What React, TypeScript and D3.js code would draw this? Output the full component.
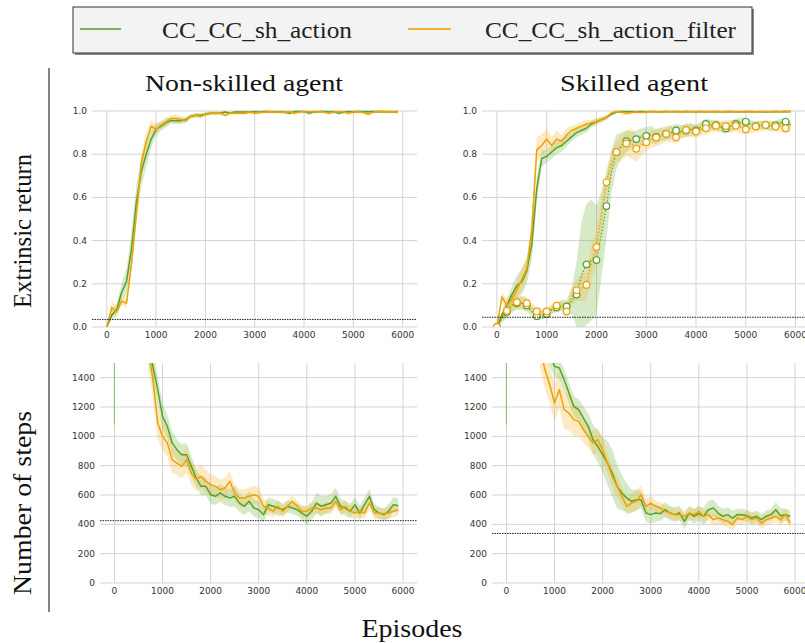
import React from 'react';
import * as d3 from 'd3';

// ---------- data ----------
const EPISODES = d3.range(0, 6000, 100);
const STEP_EPISODES = d3.range(700, 6000, 100);
const EPISODE_TICKS = [0, 1000, 2000, 3000, 4000, 5000, 6000];
const RETURN_TICKS = [0, 0.2, 0.4, 0.6, 0.8, 1.0];
const STEP_TICKS = [0, 200, 400, 600, 800, 1000, 1200, 1400];
const SERIES_NAMES = ['CC_CC_sh_action', 'CC_CC_sh_action_filter'];
const PANEL_TITLES = ['Non-skilled agent', 'Skilled agent'];
const ROW_LABELS = ['Extrinsic return', 'Number of steps'];
const X_LABEL = 'Episodes';
const BASELINE_RETURN = [0.035, 0.045];
const BASELINE_STEPS = [425, 338];
const STEP_START_LOW = [1080, 1080];

// Non-skilled, extrinsic return
const TL_GREEN = [0, 0.055, 0.08, 0.16, 0.21, 0.36, 0.58, 0.72, 0.8, 0.87,
  0.915, 0.93, 0.945, 0.955, 0.955, 0.955, 0.96, 0.975, 0.98, 0.98,
  0.985, 0.99, 0.99, 0.99, 0.995, 0.99, 0.995, 0.995, 0.995, 0.995,
  0.997, 0.995, 0.998, 0.997, 0.996, 0.997, 0.995, 0.99, 0.997, 0.998,
  0.998, 0.99, 0.996, 0.997, 0.998, 0.995, 0.997, 0.99, 0.995, 0.997,
  0.996, 0.998, 0.997, 0.996, 0.998, 0.997, 0.998, 0.996, 0.997, 0.996];
const TL_GREEN_SD = [0, 0.02, 0.03, 0.04, 0.06, 0.08, 0.08, 0.07, 0.06, 0.04,
  0.03, 0.02, 0.02, 0.015, 0.015, 0.015, 0.012, 0.01, 0.01, 0.01,
  0.008, 0.008, 0.008, 0.008, 0.006, 0.006, 0.006, 0.006, 0.006, 0.006,
  0.006, 0.006, 0.006, 0.006, 0.006, 0.006, 0.006, 0.008, 0.006, 0.006,
  0.006, 0.008, 0.006, 0.006, 0.006, 0.006, 0.006, 0.008, 0.006, 0.006,
  0.006, 0.006, 0.006, 0.006, 0.006, 0.006, 0.006, 0.006, 0.006, 0.006];
const TL_ORANGE = [0, 0.09, 0.07, 0.12, 0.11, 0.29, 0.52, 0.76, 0.86, 0.93,
  0.915, 0.935, 0.95, 0.965, 0.965, 0.96, 0.955, 0.975, 0.98, 0.975,
  0.985, 0.99, 0.99, 0.99, 0.98, 0.99, 0.99, 0.99, 0.99, 0.995,
  0.99, 0.993, 0.995, 0.997, 0.995, 0.996, 0.993, 0.997, 0.99, 0.995,
  0.997, 0.996, 0.995, 0.997, 0.996, 0.99, 0.995, 0.997, 0.996, 0.99,
  0.995, 0.997, 0.993, 0.985, 0.995, 0.998, 0.997, 0.996, 0.997, 0.995];
const TL_ORANGE_SD = [0, 0.03, 0.02, 0.02, 0.02, 0.03, 0.03, 0.04, 0.04, 0.03,
  0.02, 0.02, 0.02, 0.015, 0.02, 0.015, 0.012, 0.01, 0.01, 0.01,
  0.008, 0.008, 0.008, 0.008, 0.008, 0.007, 0.007, 0.007, 0.007, 0.007,
  0.007, 0.007, 0.007, 0.007, 0.007, 0.007, 0.007, 0.007, 0.007, 0.007,
  0.007, 0.007, 0.007, 0.007, 0.007, 0.007, 0.007, 0.007, 0.007, 0.007,
  0.007, 0.007, 0.007, 0.008, 0.007, 0.007, 0.007, 0.007, 0.007, 0.007];

// Skilled, extrinsic return (solid = fast, dotted+markers = slow)
const TR_GREEN = [0, 0.055, 0.1, 0.15, 0.19, 0.21, 0.26, 0.38, 0.64, 0.78,
  0.79, 0.81, 0.83, 0.84, 0.86, 0.88, 0.9, 0.91, 0.92, 0.94,
  0.95, 0.96, 0.97, 0.985, 0.995, 0.998, 0.997, 0.998, 0.997, 0.998,
  0.997, 0.998, 0.997, 0.996, 0.998, 0.997, 0.998, 0.997, 0.998, 0.996,
  0.997, 0.998, 0.996, 0.997, 0.998, 0.996, 0.997, 0.998, 0.997, 0.996,
  0.997, 0.998, 0.996, 0.997, 0.995, 0.997, 0.998, 0.997, 0.998, 0.997];
const TR_GREEN_SD = [0, 0.02, 0.03, 0.04, 0.05, 0.06, 0.06, 0.07, 0.06, 0.04,
  0.03, 0.03, 0.03, 0.03, 0.025, 0.02, 0.02, 0.02, 0.02, 0.015,
  0.015, 0.012, 0.01, 0.008, 0.005, 0.004, 0.004, 0.004, 0.004, 0.004,
  0.004, 0.004, 0.004, 0.004, 0.004, 0.004, 0.004, 0.004, 0.004, 0.004,
  0.004, 0.004, 0.004, 0.004, 0.004, 0.004, 0.004, 0.004, 0.004, 0.004,
  0.004, 0.004, 0.004, 0.004, 0.004, 0.004, 0.004, 0.004, 0.004, 0.004];
const TR_ORANGE = [0, 0.14, 0.1, 0.13, 0.17, 0.22, 0.27, 0.45, 0.82, 0.84,
  0.87, 0.84, 0.87, 0.86, 0.89, 0.91, 0.92, 0.93, 0.94, 0.945,
  0.95, 0.96, 0.97, 0.99, 0.998, 0.995, 0.99, 0.993, 0.995, 0.993,
  0.995, 0.997, 0.996, 0.995, 0.997, 0.996, 0.997, 0.995, 0.997, 0.998,
  0.997, 0.996, 0.997, 0.998, 0.997, 0.996, 0.998, 0.997, 0.996, 0.997,
  0.998, 0.997, 0.996, 0.997, 0.998, 0.997, 0.996, 0.997, 0.998, 0.998];
const TR_ORANGE_SD = [0, 0.02, 0.03, 0.03, 0.04, 0.05, 0.05, 0.06, 0.06, 0.05,
  0.05, 0.04, 0.04, 0.03, 0.03, 0.02, 0.02, 0.02, 0.02, 0.015,
  0.015, 0.012, 0.01, 0.008, 0.006, 0.008, 0.01, 0.008, 0.006, 0.006,
  0.006, 0.006, 0.006, 0.006, 0.006, 0.006, 0.006, 0.006, 0.006, 0.006,
  0.006, 0.006, 0.006, 0.006, 0.006, 0.006, 0.006, 0.006, 0.006, 0.006,
  0.006, 0.006, 0.006, 0.006, 0.006, 0.006, 0.006, 0.006, 0.006, 0.006];
const TR_GREEN_SLOW = [0, 0.04, 0.07, 0.1, 0.11, 0.11, 0.1, 0.07, 0.05, 0.055,
  0.06, 0.08, 0.09, 0.1, 0.095, 0.12, 0.15, 0.24, 0.29, 0.31,
  0.31, 0.43, 0.56, 0.72, 0.81, 0.84, 0.86, 0.865, 0.87, 0.88,
  0.885, 0.89, 0.88, 0.89, 0.895, 0.9, 0.91, 0.905, 0.91, 0.915,
  0.91, 0.925, 0.94, 0.935, 0.935, 0.925, 0.92, 0.93, 0.94, 0.945,
  0.95, 0.94, 0.93, 0.935, 0.935, 0.93, 0.935, 0.945, 0.95, 0.935];
const TR_GREEN_SLOW_SD = [0, 0.02, 0.03, 0.03, 0.03, 0.03, 0.03, 0.02, 0.02, 0.02,
  0.02, 0.02, 0.02, 0.025, 0.03, 0.06, 0.15, 0.25, 0.28, 0.28,
  0.25, 0.2, 0.15, 0.1, 0.08, 0.06, 0.05, 0.04, 0.04, 0.04,
  0.04, 0.04, 0.035, 0.03, 0.03, 0.03, 0.03, 0.03, 0.03, 0.03,
  0.025, 0.025, 0.025, 0.025, 0.025, 0.025, 0.025, 0.025, 0.025, 0.025,
  0.02, 0.02, 0.02, 0.02, 0.02, 0.02, 0.02, 0.02, 0.02, 0.02];
const TR_ORANGE_SLOW = [0, 0.05, 0.075, 0.1, 0.115, 0.115, 0.11, 0.09, 0.072, 0.07,
  0.072, 0.085, 0.099, 0.1, 0.072, 0.14, 0.17, 0.18, 0.195, 0.3,
  0.37, 0.52, 0.67, 0.76, 0.81, 0.83, 0.85, 0.85, 0.825, 0.84,
  0.855, 0.87, 0.877, 0.885, 0.894, 0.895, 0.878, 0.9, 0.912, 0.91,
  0.905, 0.915, 0.92, 0.925, 0.932, 0.93, 0.93, 0.93, 0.932, 0.925,
  0.915, 0.92, 0.928, 0.93, 0.935, 0.93, 0.928, 0.93, 0.92, 0.93];
const TR_ORANGE_SLOW_SD = [0, 0.02, 0.03, 0.03, 0.03, 0.03, 0.03, 0.02, 0.02, 0.02,
  0.02, 0.02, 0.02, 0.02, 0.03, 0.04, 0.05, 0.06, 0.07, 0.08,
  0.08, 0.08, 0.06, 0.05, 0.05, 0.06, 0.06, 0.07, 0.06, 0.05,
  0.04, 0.04, 0.04, 0.04, 0.035, 0.04, 0.03, 0.03, 0.03, 0.03,
  0.03, 0.03, 0.03, 0.025, 0.025, 0.025, 0.03, 0.03, 0.025, 0.03,
  0.025, 0.025, 0.025, 0.025, 0.025, 0.025, 0.025, 0.025, 0.025, 0.025];

// Non-skilled, number of steps (episodes 700..5900)
const BL_GREEN = [1650, 1477, 1318, 1136, 1068, 955, 909, 875, 875, 795,
  716, 659, 659, 602, 591, 614, 591, 580, 591, 545,
  523, 557, 511, 500, 466, 534, 523, 511, 500, 523,
  511, 500, 477, 455, 489, 545, 523, 534, 545, 591,
  523, 511, 489, 534, 477, 534, 591, 500, 477, 466,
  489, 534, 527];
const BL_GREEN_SD = [120, 110, 100, 90, 80, 80, 70, 70, 80, 70,
  60, 60, 60, 60, 60, 60, 60, 60, 70, 60,
  60, 70, 60, 60, 50, 50, 50, 50, 40, 40,
  40, 40, 50, 60, 60, 70, 70, 60, 60, 60,
  50, 50, 50, 50, 50, 50, 50, 40, 40, 40,
  50, 50, 50];
const BL_ORANGE = [1600, 1386, 1091, 1000, 955, 841, 818, 795, 841, 750,
  705, 727, 693, 670, 659, 636, 648, 693, 614, 580,
  580, 591, 602, 591, 523, 511, 489, 523, 489, 523,
  557, 523, 489, 489, 511, 511, 500, 511, 511, 557,
  500, 523, 489, 477, 489, 477, 545, 477, 477, 473,
  477, 489, 500];
const BL_ORANGE_SD = [130, 120, 110, 100, 90, 90, 80, 80, 90, 80,
  80, 80, 80, 70, 70, 70, 70, 70, 60, 60,
  60, 60, 60, 60, 50, 50, 40, 40, 40, 40,
  40, 40, 40, 40, 40, 40, 40, 40, 40, 40,
  40, 40, 40, 40, 40, 40, 40, 40, 40, 40,
  40, 40, 40];

// Skilled, number of steps (episodes 700..5900)
const BR_GREEN = [1750, 1650, 1560, 1477, 1466, 1386, 1296, 1205, 1182, 1125,
  1068, 977, 932, 875, 818, 750, 659, 614, 580, 557,
  568, 568, 477, 466, 477, 473, 500, 477, 466, 477,
  420, 477, 455, 473, 455, 500, 511, 477, 455, 466,
  443, 466, 466, 459, 443, 455, 432, 455, 466, 500,
  459, 466, 455];
const BR_GREEN_SD = [80, 80, 80, 70, 70, 70, 70, 70, 70, 80,
  90, 100, 110, 120, 150, 160, 150, 120, 100, 80,
  70, 60, 60, 60, 60, 50, 50, 50, 50, 50,
  50, 50, 50, 50, 60, 60, 60, 50, 50, 50,
  50, 40, 40, 40, 40, 40, 40, 40, 40, 50,
  50, 40, 40];
const BR_ORANGE = [1600, 1455, 1352, 1227, 1318, 1182, 1159, 1114, 1102, 1045,
  1000, 955, 977, 909, 818, 727, 659, 591, 523, 545,
  557, 602, 523, 545, 523, 511, 489, 477, 466, 466,
  455, 477, 466, 489, 455, 466, 432, 443, 432, 420,
  398, 443, 432, 455, 432, 443, 409, 432, 443, 455,
  432, 466, 409];
const BR_ORANGE_SD = [130, 130, 130, 130, 130, 130, 120, 110, 100, 90,
  80, 80, 80, 80, 70, 70, 70, 60, 60, 60,
  70, 70, 50, 50, 40, 40, 40, 40, 40, 40,
  40, 40, 40, 40, 40, 40, 40, 40, 40, 40,
  40, 40, 40, 40, 40, 40, 40, 40, 40, 40,
  40, 40, 40];

// ---------- styles ----------
const GREEN = '#5aa02c';
const ORANGE = '#eea300';
const GREEN_BAND = '#79b84a';
const ORANGE_BAND = '#f3b93a';
const SERIF = '"Liberation Serif", "DejaVu Serif", serif';
const SANS = '"DejaVu Sans", sans-serif';
const X_DOMAIN = [-300, 6290];

type Series = {
  x: number[]; y: number[]; sd: number[]; color: string; band: string;
  dotted?: boolean; markers?: boolean;
};

type PanelProps = {
  id: string; left: number; right: number; top: number; bottom: number;
  yDomain: number[]; yTicks: number[]; yFmt: (v: number) => string;
  series: Series[]; baseline: number; spikeLow?: number; clipPad: number;
};

function Panel(p: PanelProps) {
  const x = d3.scaleLinear().domain(X_DOMAIN).range([p.left, p.right]);
  const y = d3.scaleLinear().domain(p.yDomain).range([p.bottom, p.top]);
  const grid = '#d3d3d3';
  const clipId = 'clip-' + p.id;
  return (
    <g>
      <defs>
        <clipPath id={clipId}>
          <rect x={p.left} y={p.top - p.clipPad} width={p.right - p.left} height={p.bottom - p.top + p.clipPad} />
        </clipPath>
      </defs>
      {p.yTicks.map((t) => (
        <g key={'y' + t}>
          <line x1={p.left} x2={p.right} y1={y(t)} y2={y(t)} stroke={grid} strokeWidth={1} />
          <text x={p.left - 5} y={y(t)} textAnchor="end" dominantBaseline="central"
            fontFamily={SANS} fontSize={9} fill="#333">{p.yFmt(t)}</text>
        </g>
      ))}
      {EPISODE_TICKS.map((t) => (
        <g key={'x' + t}>
          <line x1={x(t)} x2={x(t)} y1={p.top} y2={p.bottom} stroke={grid} strokeWidth={1} />
          <text x={x(t)} y={p.bottom + 8} textAnchor="middle" dominantBaseline="central"
            fontFamily={SANS} fontSize={9} fill="#333">{String(t)}</text>
        </g>
      ))}
      <g clipPath={`url(#${clipId})`}>
        {p.spikeLow !== undefined && (
          <line x1={x(0)} x2={x(0)} y1={y(p.spikeLow)} y2={y(p.yDomain[1])}
            stroke={GREEN_BAND} strokeOpacity={0.7} strokeWidth={1.2} />
        )}
        {p.series.map((s, i) => {
          const area = d3.area<number>()
            .x((_, j) => x(s.x[j]))
            .y0((v, j) => y(v - s.sd[j]))
            .y1((v, j) => y(v + s.sd[j]));
          return <path key={'b' + i} d={area(s.y) || ''} fill={s.band} fillOpacity={0.3} stroke="none" />;
        })}
        {p.series.map((s, i) => {
          const line = d3.line<number>().x((_, j) => x(s.x[j])).y((v) => y(v));
          return (
            <path key={'l' + i} d={line(s.y) || ''} fill="none" stroke={s.color}
              strokeWidth={s.dotted ? 1.2 : 1.5} strokeDasharray={s.dotted ? '1.5,1.8' : undefined}
              strokeLinejoin="round" />
          );
        })}
        {p.series.map((s, i) => s.markers ? (
          <g key={'m' + i}>
            {s.y.map((v, j) => j % 2 === 0 ? (
              <circle key={j} cx={x(s.x[j])} cy={y(v)} r={3.3} fill="#fff" stroke={s.color} strokeWidth={1.2} />
            ) : null)}
          </g>
        ) : null)}
        <line x1={p.left} x2={p.right} y1={y(p.baseline)} y2={y(p.baseline)}
          stroke="#222" strokeWidth={1} strokeDasharray="1.5,1" />
      </g>
    </g>
  );
}

const fmtReturn = d3.format('.1f');
const fmtSteps = d3.format('d');

export default function App() {
  const s = (xv: number[], yv: number[], sd: number[], green: boolean, extra: Partial<Series> = {}): Series => ({
    x: xv, y: yv, sd, color: green ? GREEN : ORANGE, band: green ? GREEN_BAND : ORANGE_BAND, ...extra,
  });
  return (
    <svg width={805} height={643} style={{ position: 'absolute', left: 0, top: 0, background: '#fff' }}
      xmlns="http://www.w3.org/2000/svg">
      <rect x={0} y={0} width={805} height={643} fill="#fff" />
      {/* legend */}
      <rect x={75} y={9} width={679} height={46} fill="#8a8a8a" />
      <rect x={73} y={7} width={679} height={46} fill="#f3f3f3" stroke="#333" strokeWidth={1} />
      <line x1={80} x2={121} y1={29} y2={29} stroke={GREEN} strokeOpacity={0.8} strokeWidth={2} />
      <text x={162} y={38} fontFamily={SERIF} fontSize={24} fill="#222" textLength={190} lengthAdjust="spacingAndGlyphs">{SERIES_NAMES[0]}</text>
      <line x1={408} x2={451} y1={29} y2={29} stroke={ORANGE} strokeOpacity={0.8} strokeWidth={2} />
      <text x={485} y={38} fontFamily={SERIF} fontSize={24} fill="#222" textLength={251} lengthAdjust="spacingAndGlyphs">{SERIES_NAMES[1]}</text>

      {/* titles */}
      <text x={244} y={91} textAnchor="middle" fontFamily={SERIF} fontSize={23} fill="#111" textLength={198} lengthAdjust="spacingAndGlyphs">{PANEL_TITLES[0]}</text>
      <text x={634} y={91} textAnchor="middle" fontFamily={SERIF} fontSize={23} fill="#111" textLength={148} lengthAdjust="spacingAndGlyphs">{PANEL_TITLES[1]}</text>

      {/* row labels */}
      <text transform="translate(31,231) rotate(-90)" textAnchor="middle" fontFamily={SERIF} fontSize={25} fill="#111" textLength={154} lengthAdjust="spacingAndGlyphs">{ROW_LABELS[0]}</text>
      <text transform="translate(31,503) rotate(-90)" textAnchor="middle" fontFamily={SERIF} fontSize={25} fill="#111" textLength={184} lengthAdjust="spacingAndGlyphs">{ROW_LABELS[1]}</text>
      <line x1={49} x2={49} y1={68} y2={612} stroke="#666" strokeWidth={1.6} />

      {/* x label */}
      <text x={412} y={637} textAnchor="middle" fontFamily={SERIF} fontSize={25} fill="#111" textLength={101} lengthAdjust="spacingAndGlyphs">{X_LABEL}</text>

      <Panel id="tl" left={92} right={417} top={111} bottom={327} clipPad={4}
        yDomain={[0, 1]} yTicks={RETURN_TICKS} yFmt={fmtReturn} baseline={BASELINE_RETURN[0]}
        series={[s(EPISODES, TL_GREEN, TL_GREEN_SD, true), s(EPISODES, TL_ORANGE, TL_ORANGE_SD, false)]} />
      <Panel id="tr" left={482} right={810} top={111} bottom={327} clipPad={4}
        yDomain={[0, 1]} yTicks={RETURN_TICKS} yFmt={fmtReturn} baseline={BASELINE_RETURN[1]}
        series={[
          s(EPISODES, TR_GREEN_SLOW, TR_GREEN_SLOW_SD, true, { dotted: true, markers: true }),
          s(EPISODES, TR_ORANGE_SLOW, TR_ORANGE_SLOW_SD, false, { dotted: true, markers: true }),
          s(EPISODES, TR_GREEN, TR_GREEN_SD, true),
          s(EPISODES, TR_ORANGE, TR_ORANGE_SD, false),
        ]} />
      <Panel id="bl" left={100} right={417} top={363} bottom={583} clipPad={0}
        yDomain={[0, 1500]} yTicks={STEP_TICKS} yFmt={fmtSteps} baseline={BASELINE_STEPS[0]} spikeLow={STEP_START_LOW[0]}
        series={[s(STEP_EPISODES, BL_GREEN, BL_GREEN_SD, true), s(STEP_EPISODES, BL_ORANGE, BL_ORANGE_SD, false)]} />
      <Panel id="br" left={492} right={809} top={363} bottom={583} clipPad={0}
        yDomain={[0, 1500]} yTicks={STEP_TICKS} yFmt={fmtSteps} baseline={BASELINE_STEPS[1]} spikeLow={STEP_START_LOW[1]}
        series={[s(STEP_EPISODES, BR_GREEN, BR_GREEN_SD, true), s(STEP_EPISODES, BR_ORANGE, BR_ORANGE_SD, false)]} />
    </svg>
  );
}
